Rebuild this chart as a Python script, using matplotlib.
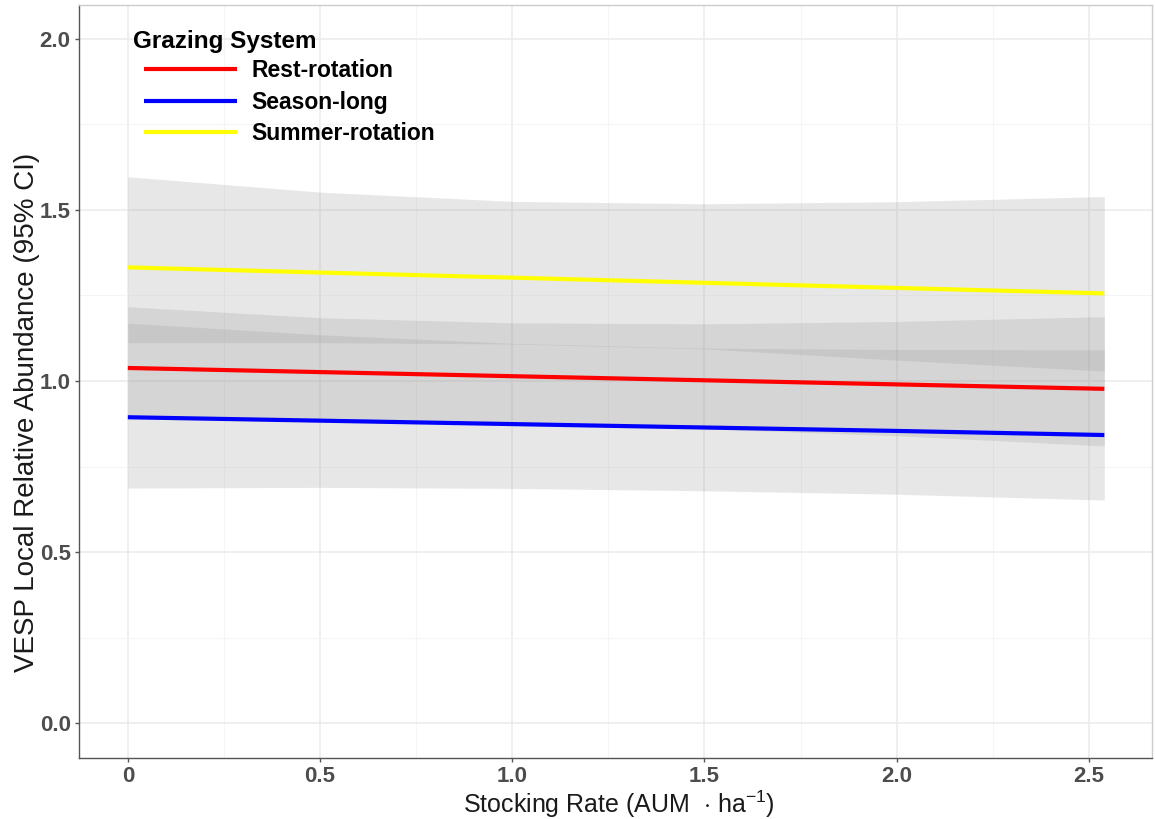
#! /usr/bin/env python3

# Imports
import matplotlib
matplotlib.use("Agg")
import matplotlib.pyplot as plt
from matplotlib.ticker import MultipleLocator, FixedLocator
import numpy as np


# Configuration
plt.rcParams['font.family'] = ['Liberation Sans', 'DejaVu Sans']
plt.rcParams['mathtext.fontset'] = 'custom'
plt.rcParams['mathtext.rm'] = 'Liberation Sans'
plt.rcParams['mathtext.it'] = 'Liberation Sans:italic'

# Data
stocking = [0.0, 0.5, 1.0, 1.5, 2.0, 2.54]

rest_fit = [1.038, 1.026, 1.014, 1.002, 0.990, 0.977]
rest_lo = [0.897, 0.886, 0.875, 0.860, 0.840, 0.810]
rest_hi = [1.217, 1.185, 1.170, 1.167, 1.174, 1.188]

season_fit = [0.894, 0.884, 0.874, 0.864, 0.854, 0.842]
season_lo = [0.687, 0.689, 0.686, 0.679, 0.669, 0.652]
season_hi = [1.169, 1.135, 1.110, 1.096, 1.092, 1.091]

summer_fit = [1.332, 1.317, 1.302, 1.287, 1.272, 1.256]
summer_lo = [1.112, 1.112, 1.108, 1.094, 1.061, 1.029]
summer_hi = [1.597, 1.552, 1.525, 1.518, 1.524, 1.539]

systems = ["Rest-rotation", "Season-long", "Summer-rotation"]
colours = ["#ff0000", "#0000ff", "#ffff00"]


# Code
fig = plt.figure(figsize=(11.55, 8.19), dpi=100)
ax = fig.add_axes([0.0684, 0.0745, 0.929, 0.9194])

fits = [rest_fit, season_fit, summer_fit]
lows = [rest_lo, season_lo, summer_lo]
highs = [rest_hi, season_hi, summer_hi]

for lo, hi in zip(lows, highs):
    ax.fill_between(stocking, lo, hi, color="#969696", alpha=0.22,
                    linewidth=0, zorder=2)

for name, fit, col in zip(systems, fits, colours):
    ax.plot(stocking, fit, color=col, linewidth=3.0, label=name,
            solid_capstyle="butt", zorder=3)

ax.set_xlim(-0.127, 2.664)
ax.set_ylim(-0.102, 2.099)

ax.xaxis.set_major_locator(FixedLocator([0, 0.5, 1.0, 1.5, 2.0, 2.5]))
ax.set_xticklabels(["0", "0.5", "1.0", "1.5", "2.0", "2.5"])
ax.xaxis.set_minor_locator(MultipleLocator(0.25))
ax.yaxis.set_major_locator(MultipleLocator(0.5))
ax.yaxis.set_minor_locator(MultipleLocator(0.25))
ax.set_yticks([0, 0.5, 1.0, 1.5, 2.0])
ax.set_yticklabels(["0.0", "0.5", "1.0", "1.5", "2.0"])

ax.grid(which="major", color="#ebebeb", linewidth=1.1, zorder=0)
ax.grid(which="minor", color="#f5f5f5", linewidth=0.8, zorder=0)
ax.set_axisbelow(True)

for side in ["left", "bottom"]:
    ax.spines[side].set_color("#555555")
    ax.spines[side].set_linewidth(1.0)
for side in ["top", "right"]:
    ax.spines[side].set_color("#cccccc")
    ax.spines[side].set_linewidth(1.0)

ax.tick_params(which="major", length=3, width=1, color="#555555",
               labelsize=16, labelcolor="#4d4d4d", pad=3)
ax.tick_params(which="minor", length=0)
for lab in ax.get_xticklabels() + ax.get_yticklabels():
    lab.set_fontweight("bold")

ax.set_xlabel(r"Stocking Rate (AUM  $\cdot$ ha$^{-1}$)", fontsize=18,
              color="#1a1a1a")
ax.xaxis.set_label_coords(0.503, -0.040)
ax.set_ylabel("VESP Local Relative Abundance (95% CI)", fontsize=20,
              color="#1a1a1a")
ax.yaxis.set_label_coords(-0.0365, 0.459)

# legend title drawn on its own so the keys can sit indented like ggplot
ax.text(0.0503, 0.951, "Grazing System", transform=ax.transAxes,
        fontsize=17.5, fontweight="bold", ha="left", va="center")
ax.legend(loc="upper left", bbox_to_anchor=(0.0606, 0.928), frameon=False,
          prop={"size": 16.5, "weight": "bold"},
          handlelength=4.06, handletextpad=0.61, labelspacing=0.37,
          borderaxespad=0, borderpad=0)

plt.savefig("out.png", dpi=100)
